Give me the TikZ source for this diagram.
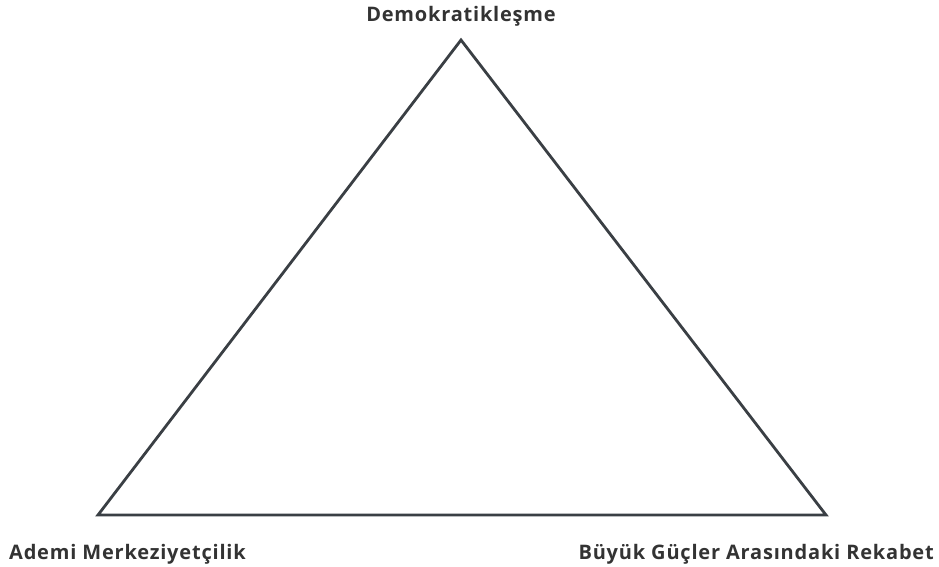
\documentclass[tikz,border=0pt]{standalone}
\usepackage{fontspec}
\setmainfont{Open Sans}[LetterSpace=4]
\usepackage{xcolor}
\definecolor{edgegray}{HTML}{3A3F44}
\definecolor{labelgray}{HTML}{333333}
\begin{document}
\begin{tikzpicture}[x=1pt,y=1pt,
    corner/.style={inner sep=0pt},
    label/.style={font=\fontsize{20}{22}\selectfont\bfseries,text=labelgray,inner sep=0pt}]
      \useasboundingbox (0,0) rectangle (939,566);
      \draw
        (461,526) coordinate (top)
        (98,51) coordinate (left)
        (826,51) coordinate (right);
      \node[label,anchor=base] (demo) at (461,544) {Demokratikleşme};
      \node[label,anchor=base west] (ademi) at (9,7) {Ademi Merkeziyetçilik};
      \node[label,anchor=base east] (rekabet) at (934,7) {Büyük Güçler Arasındaki Rekabet};
      \begin{scope}[edgegray,line width=2.8pt,line join=miter]
        \draw (top) -- (left) -- (right) -- cycle;
      \end{scope}
    \end{tikzpicture}
\end{document}
